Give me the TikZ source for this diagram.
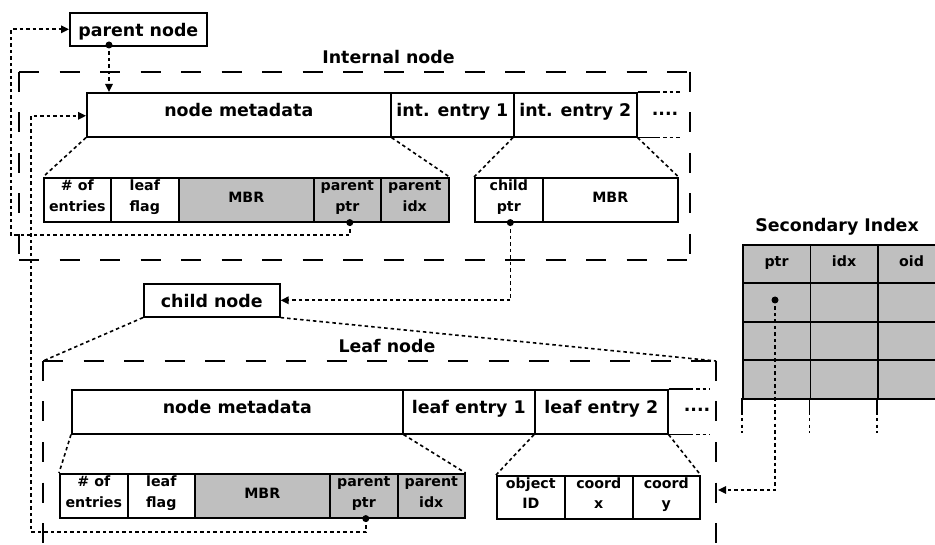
\documentclass[tikz,border=0pt]{standalone}
\usepackage{fontspec}
\setmainfont{DejaVu Sans}
\usetikzlibrary{arrows.meta}
\newcommand\bigf{\fontsize{17.4}{20}\selectfont\bfseries}
\newcommand\cellf{\fontsize{14.2}{20.5}\selectfont\bfseries}
\definecolor{cellgray}{RGB}{191,191,191}
\tikzset{
  frame/.style={line width=1.6pt},
  box/.style={draw, line width=1.6pt, inner sep=0pt, anchor=north west, align=center},
  hdr/.style={box, fill=white, minimum height=44pt, text height=13pt, text depth=9pt, font=\bigf},
  tag/.style={box, fill=white, minimum height=33pt, text height=13.5pt, text depth=0pt, font=\bigf},
  one/.style={box, minimum height=44pt, text height=12pt, text depth=6pt, font=\cellf},
  two/.style={box, minimum height=44pt, text height=31pt, text depth=8pt, font=\cellf},
  tcell/.style={box, fill=cellgray, minimum width=67.5pt, minimum height=38.5pt, text height=12pt, text depth=8pt, font=\cellf},
  grayed/.style={fill=cellgray},
  whited/.style={fill=white},
  title/.style={anchor=base, font=\bigf, inner sep=0pt},
  dotline/.style={line width=1.6pt, dash pattern=on 3.5pt off 3pt},
  dotarrow/.style={dotline, -{Triangle[length=8pt,width=7.5pt]}},
  longdash/.style={line width=1.6pt, dash pattern=on 20pt off 20.5pt},
  pin/.style={circle, fill=black, inner sep=0pt, minimum size=7pt},
}
\begin{document}
\begin{tikzpicture}[x=1pt,y=-1pt]
\useasboundingbox (0,0) rectangle (935,545);
\clip (0,0) rectangle (935,545);

% ---- outlines of the two node layouts
\coordinate (iTL) at (19,72);  \coordinate (iTR) at (690,72);
\coordinate (iBL) at (19,260); \coordinate (iBR) at (690,260);
\draw[longdash] (iTL) -- (iTR);
\draw[longdash] (iTR) -- (iBR);
\draw[longdash] (iTL) -- (iBL);
\draw[longdash] (iBL) -- (iBR);

\coordinate (lTL) at (43,361);  \coordinate (lTR) at (716,361);
\coordinate (lBL) at (43,600);  \coordinate (lBR) at (716,600);
\draw[longdash] (lTL) -- (lTR);
\draw[longdash] (lTR) -- (lBR);
\draw[longdash] (lTL) -- (lBL);

\node[title] (tint) at (388.5,64) {Internal node};
\node[title] (tleaf) at (387,353) {Leaf node};
\node[title] (tsec) at (837,231.5) {Secondary Index};

% ---- parent and child
\node[tag, minimum width=137pt] (pnode) at (69,12) {parent node};
\node[tag, minimum width=136pt] (cnode) at (143,283) {child node};

% ---- internal node
\node[hdr, minimum width=304pt] (imeta) at (86,92) {node metadata};
\node[hdr, minimum width=123pt] (ient1) at (390,92) {int. entry 1};
\node[hdr, minimum width=123pt] (ient2) at (513,92) {int. entry 2};
\node[title] (idots) at (665,116) {....};
\draw[frame] (ient2.north east) -- ++(19,0) coordinate (ia);
\draw[dotline] (ia) -- ++(23,0);
\draw[frame] (ient2.south east) -- ++(19,0) coordinate (ib);
\draw[dotline] (ib) -- ++(23,0);

\node[two, whited, minimum width=67pt]  (inum)  at (43,177)  {\# of\\entries};
\node[two, whited, minimum width=68pt]  (ileaf) at (110,177) {leaf\\flag};
\node[one, grayed, minimum width=135pt] (imbr)  at (178,177) {MBR};
\node[two, grayed, minimum width=67pt]  (ipptr) at (313,177) {parent\\ptr};
\node[two, grayed, minimum width=68pt]  (ipidx) at (380,177) {parent\\idx};

\node[two, whited, minimum width=68pt]  (ichild) at (474,177) {child\\ptr};
\node[one, whited, minimum width=135pt] (iembr)  at (542,177) {MBR};

% ---- leaf node
\node[hdr, minimum width=331pt] (lmeta) at (71,389) {node metadata};
\node[hdr, minimum width=132pt] (lent1) at (402,389) {leaf entry 1};
\node[hdr, minimum width=133pt] (lent2) at (534,389) {leaf entry 2};
\node[title] (ldots) at (697,412) {....};
\draw[frame] (lent2.north east) -- ++(21,0) coordinate (la);
\draw[dotline] (la) -- ++(20,0);
\draw[frame] (lent2.south east) -- ++(21,0) coordinate (lb);
\draw[dotline] (lb) -- ++(20,0);

\node[two, whited, minimum width=68pt]  (lnum)  at (59,473)  {\# of\\entries};
\node[two, whited, minimum width=67pt]  (lleaf) at (127,473) {leaf\\flag};
\node[one, grayed, minimum width=135pt] (lmbr)  at (194,473) {MBR};
\node[two, grayed, minimum width=68pt]  (lpptr) at (329,473) {parent\\ptr};
\node[two, grayed, minimum width=67pt]  (lpidx) at (397,473) {parent\\idx};

\node[two, whited, minimum width=68pt, minimum height=43pt] (lobj) at (496,475) {object\\ID};
\node[two, whited, minimum width=68pt, minimum height=43pt] (lcx)  at (564,475) {coord\\x};
\node[two, whited, minimum width=67pt, minimum height=43pt] (lcy)  at (632,475) {coord\\y};

% ---- secondary index table
\node[tcell] (t00) at (742,244)   {ptr};
\node[tcell] (t01) at (809.5,244) {idx};
\node[tcell] (t02) at (877,244)   {oid};
\foreach \r in {1,2,3}
  \foreach \c in {0,1,2}
    \node[tcell] (t\r\c) at ({742+67.5*\c},{244+38.5*\r}) {};
\foreach \c in {0,1,2,3}{
  \coordinate (tb\c) at ({742+67.5*\c},398);
  \draw[frame] (tb\c) -- ++(0,17) coordinate (tc\c);
  \draw[dotline] (tc\c) ++(0,3) -- ++(0,15);
}

% ---- zoom-out guides
\draw[dotline] (imeta.south west) -- (inum.north west);
\draw[dotline] (imeta.south east) -- (ipidx.north east);
\draw[dotline] (ient2.south west) -- (ichild.north west);
\draw[dotline] (ient2.south east) -- (iembr.north east);
\draw[dotline] (cnode.south west) -- (lTL);
\draw[dotline] (cnode.south east) -- (lTR);
\draw[dotline] (lmeta.south west) -- (lnum.north west);
\draw[dotline] (lmeta.south east) -- (lpidx.north east);
\draw[dotline] (lent2.south west) -- (lobj.north west);
\draw[dotline] (lent2.south east) -- (lcy.north east);

% ---- pointers
\node[pin] (ppin) at (109,45) {};
\draw[dotarrow] (ppin.center) -- (ppin.center |- imeta.north);

\node[pin] (ipin) at ([xshift=2.5pt]ipptr.south) {};
\coordinate (loopA) at (11,235);
\draw[dotarrow] (ipin.center) |- (loopA) |- (pnode.west);

\node[pin] (lpin) at ([xshift=2pt]lpptr.south) {};
\coordinate (loopB) at (31,532);
\draw[dotarrow] (lpin.center) |- (loopB) |- ([yshift=-1pt]imeta.west);

\node[pin] (cpin) at ([xshift=1.5pt]ichild.south) {};
\draw[dotarrow] (cpin.center) |- (cnode.east);

\node[pin] (spin) at (775,300) {};
\coordinate (starget) at (718,490);
\draw[dotarrow] (spin.center) |- (starget);
\end{tikzpicture}
\end{document}
